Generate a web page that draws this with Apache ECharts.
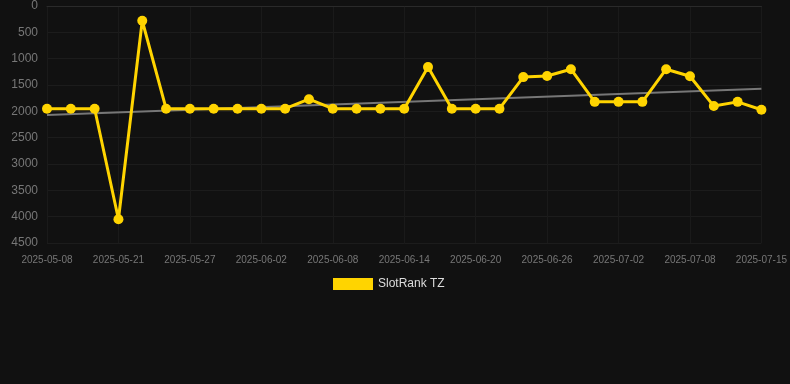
<!DOCTYPE html>
<html><head><meta charset="utf-8">
<script src="https://cdn.jsdelivr.net/npm/echarts@6/dist/echarts.min.js"></script>
<style>html,body{margin:0;padding:0;background:#111111;}#c{width:790px;height:384px;}</style>
</head><body><div id="c"></div>
<script>
const categories = ['2025-05-08','2025-05-12','2025-05-17','2025-05-21','2025-05-23','2025-05-25','2025-05-27','2025-05-29','2025-05-31','2025-06-02','2025-06-04','2025-06-06','2025-06-08','2025-06-10','2025-06-12','2025-06-14','2025-06-16','2025-06-18','2025-06-20','2025-06-22','2025-06-24','2025-06-26','2025-06-28','2025-06-30','2025-07-02','2025-07-04','2025-07-06','2025-07-08','2025-07-10','2025-07-12','2025-07-15'];
const rankValues = [1950,1950,1950,4050,280,1950,1950,1950,1950,1950,1950,1770,1950,1950,1950,1950,1160,1950,1950,1950,1350,1330,1200,1820,1820,1820,1200,1335,1900,1820,1970];
const trendStart = 2070;
const trendEnd = 1570;
const seriesName = 'SlotRank TZ';

const trendData = categories.map((c, i) => i === 0 ? trendStart : (i === categories.length - 1 ? trendEnd : null));

const chart = echarts.init(document.getElementById('c'), null, {renderer: 'canvas'});
chart.setOption({
  backgroundColor: '#111111',
  animation: false,
  grid: {left: 47, right: 28, top: 6, bottom: 141, containLabel: false},
  legend: {
    data: [{name: seriesName, icon: 'rect'}],
    top: 273, left: 328,
    itemWidth: 40, itemHeight: 12, itemGap: 10,
    textStyle: {color: '#dddddd', fontSize: 12, fontFamily: 'Liberation Sans, Arial, sans-serif'}
  },
  xAxis: {
    type: 'category', data: categories, boundaryGap: false,
    axisLine: {show: true, lineStyle: {color: '#2a2a2a'}},
    axisTick: {show: false},
    axisLabel: {interval: 2, color: '#777777', fontSize: 10, margin: 12, fontFamily: 'Liberation Sans, Arial, sans-serif'},
    splitLine: {show: true, interval: 2, lineStyle: {color: '#1a1a1a'}}
  },
  yAxis: {
    type: 'value', inverse: true, min: 0, max: 4500, interval: 500,
    axisLine: {show: false}, axisTick: {show: false},
    axisLabel: {color: '#777777', fontSize: 12, margin: 9, fontFamily: 'Liberation Sans, Arial, sans-serif', formatter: v => String(v)},
    splitLine: {lineStyle: {color: '#1c1c1c'}}
  },
  series: [
    {
      name: 'trend', type: 'line', data: trendData, connectNulls: true,
      symbol: 'none', lineStyle: {color: '#777777', width: 2}, z: 1, silent: true
    },
    {
      name: seriesName, type: 'line', data: rankValues,
      symbol: 'circle', symbolSize: 10, showAllSymbol: true,
      itemStyle: {color: '#FFD400'},
      lineStyle: {color: '#FFD400', width: 3}, z: 3
    }
  ]
});
</script></body></html>
